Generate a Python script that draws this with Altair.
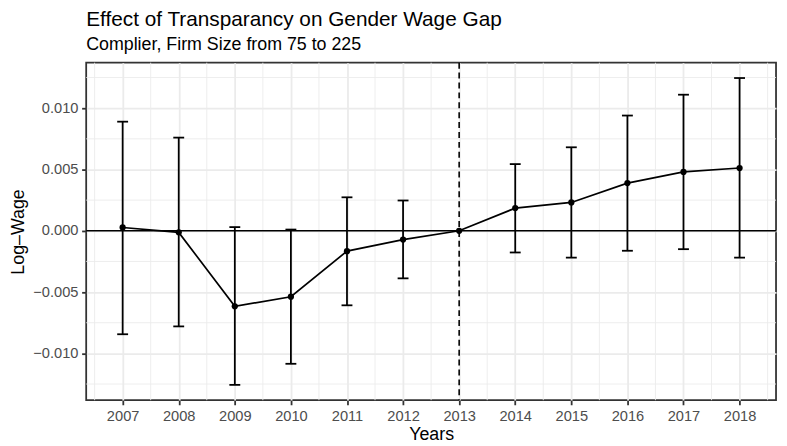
import altair as alt
import pandas as pd

# ---- data ----
years = [2007, 2008, 2009, 2010, 2011, 2012, 2013, 2014, 2015, 2016, 2017, 2018]
estimate = [0.00027, -0.00013, -0.00616, -0.00538, -0.00166, -0.00072, 0.0,
            0.00185, 0.00231, 0.00389, 0.00480, 0.00512]
lower = [-0.00844, -0.00780, -0.01257, -0.01085, -0.00608, -0.00388, 0.0,
         -0.00177, -0.00219, -0.00163, -0.00150, -0.00219]
upper = [0.00890, 0.00760, 0.00030, 0.00010, 0.00273, 0.00247, 0.0,
         0.00544, 0.00681, 0.00940, 0.01110, 0.01246]
x_tick_values = years
y_tick_values = [-0.010, -0.005, 0.0, 0.005, 0.010]
x_minor_grid = [2006.5, 2007.5, 2008.5, 2009.5, 2010.5, 2011.5, 2012.5,
                2013.5, 2014.5, 2015.5, 2016.5, 2017.5, 2018.5]
y_minor_grid = [-0.0125, -0.0075, -0.0025, 0.0025, 0.0075, 0.0125]
reference_year = [2013]
zero_line = [0.0]

df = pd.DataFrame({"year": years, "est": estimate, "lo": lower, "hi": upper})
df_err = df[df["lo"] != df["hi"]]

FONT = "Liberation Sans"
X_DOMAIN = [2006.35, 2018.65]
Y_DOMAIN = [-0.01382, 0.01371]

x_axis = alt.Axis(values=x_tick_values, format="d", title="Years",
                  grid=True, gridColor="#EBEBEB", gridWidth=1.8,
                  domain=False, tickColor="#333333", tickSize=4.6, tickWidth=1.8,
                  labelFont=FONT, labelFontSize=14.8, labelColor="#4D4D4D",
                  labelPadding=3.7, titleFont=FONT, titleFontSize=18,
                  titleFontWeight="normal", titleColor="black",
                  titleY=39.7, titleBaseline="alphabetic")
y_axis = alt.Axis(values=y_tick_values, format=".3f", title="Log–Wage",
                  grid=True, gridColor="#EBEBEB", gridWidth=1.8,
                  domain=False, tickColor="#333333", tickSize=4.6, tickWidth=1.8,
                  labelFont=FONT, labelFontSize=14.8, labelColor="#4D4D4D",
                  labelPadding=3.7, titleFont=FONT, titleFontSize=18,
                  titleFontWeight="normal", titleColor="black",
                  titleX=-63, titleY=170.5, titleAngle=270,
                  titleBaseline="alphabetic", titleAlign="center")

xs = alt.Scale(domain=X_DOMAIN, nice=False, zero=False)
ys = alt.Scale(domain=Y_DOMAIN, nice=False, zero=False)


def X(field):
    return alt.X(f"{field}:Q", scale=xs, axis=x_axis)


def Y(field):
    return alt.Y(f"{field}:Q", scale=ys, axis=y_axis)


minor_x = alt.Chart(pd.DataFrame({"year": x_minor_grid})).mark_rule(
    color="#EBEBEB", strokeWidth=0.9).encode(x=X("year"))
minor_y = alt.Chart(pd.DataFrame({"est": y_minor_grid})).mark_rule(
    color="#EBEBEB", strokeWidth=0.9).encode(y=Y("est"))

hline = alt.Chart(pd.DataFrame({"est": zero_line})).mark_rule(
    color="black", strokeWidth=1.6).encode(y=Y("est"))
vline = alt.Chart(pd.DataFrame({"year": reference_year})).mark_rule(
    color="black", strokeWidth=1.6, strokeDash=[6, 4]).encode(x=X("year"))

bars = alt.Chart(df_err).mark_rule(color="black", strokeWidth=1.8).encode(
    x=X("year"), y=Y("lo"), y2="hi")
cap_lo = alt.Chart(df_err).mark_tick(color="black", orient="horizontal",
                                     size=11, thickness=1.8, opacity=1).encode(
    x=X("year"), y=Y("lo"))
cap_hi = alt.Chart(df_err).mark_tick(color="black", orient="horizontal",
                                     size=11, thickness=1.8, opacity=1).encode(
    x=X("year"), y=Y("hi"))
line = alt.Chart(df).mark_line(color="black", strokeWidth=1.7).encode(
    x=X("year"), y=Y("est"))
points = alt.Chart(df).mark_circle(color="black", size=40, opacity=1).encode(
    x=X("year"), y=Y("est"))

chart = alt.layer(minor_x, minor_y, hline, vline, bars, cap_lo, cap_hi, line, points).properties(
    width=697, height=341,
    autosize=alt.AutoSizeParams(type="none"),
    padding={"left": 79, "top": 53, "right": 3, "bottom": 44},
    title=alt.TitleParams(
        text="Effect of Transparancy on Gender Wage Gap",
        subtitle="Complier, Firm Size from 75 to 225",
        anchor="start", frame="group",
        font=FONT, fontSize=21, fontWeight="normal", color="black",
        subtitleFont=FONT, subtitleFontSize=18, subtitleColor="black",
        offset=8, subtitlePadding=6.4),
).configure(
    background="white",
    view=alt.ViewConfig(stroke="#333333", strokeWidth=1.8, fill="white"),
)

chart.save("out.html", embed_options={"renderer": "svg", "actions": False})
